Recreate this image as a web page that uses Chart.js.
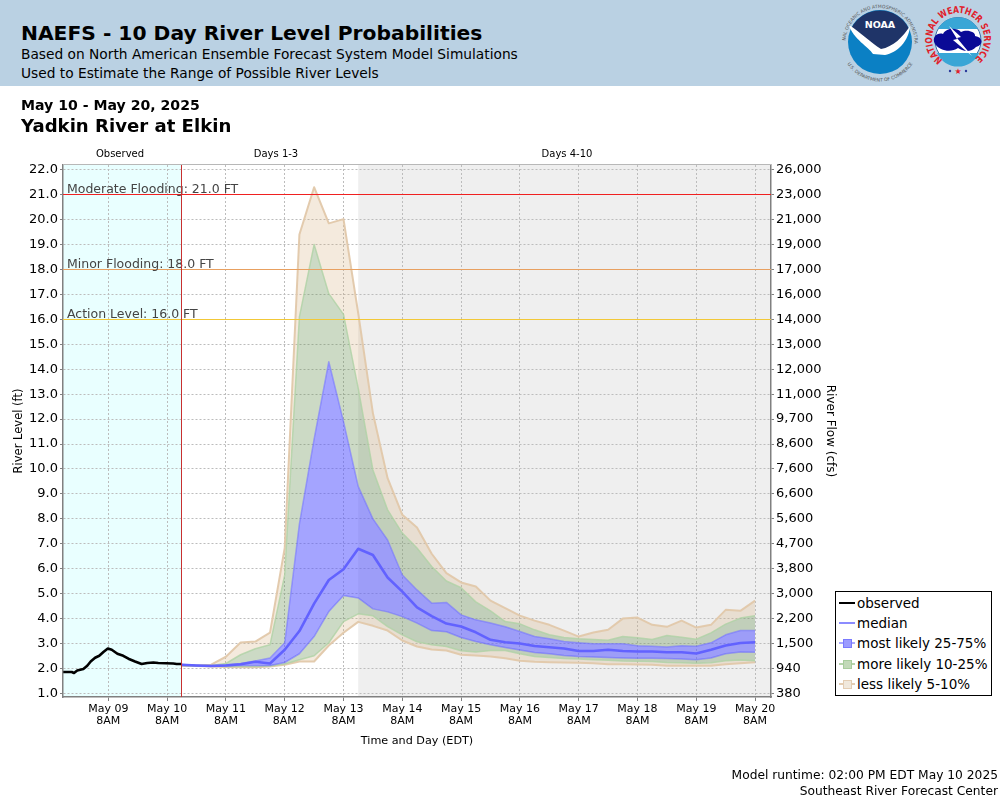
<!DOCTYPE html>
<html>
<head>
<meta charset="utf-8">
<title>NAEFS - Yadkin River at Elkin</title>
<script src="https://cdn.jsdelivr.net/npm/chart.js@4"></script>
<style>
html, body { margin: 0; padding: 0; background: #fff; overflow: hidden; }
body { width: 1000px; height: 800px; position: relative; font-family: "DejaVu Sans", sans-serif; color: #000; }
#chart { position: absolute; left: 0; top: 0; }
#banner { position: absolute; left: 0; top: 0; width: 1000px; height: 86px; background: #bad1e3; }
.txt { position: absolute; white-space: nowrap; line-height: 1; }
#legend { position: absolute; left: 835px; top: 591px; width: 155px; height: 103px; border: 1px solid #000; background: #fff; }
.row { position: absolute; left: 0; height: 20px; width: 155px; font-size: 13.5px; line-height: 20px; }
.row i { position: absolute; left: 3px; top: 9px; width: 16px; height: 2px; }
.row b { position: absolute; left: 7px; top: 6px; width: 7px; height: 7px; border: 1px solid; }
.row span { position: absolute; left: 21px; top: 0; white-space: nowrap; }
</style>
</head>
<body>
<canvas id="chart" width="1000" height="800"></canvas>

<div id="banner"></div>
<div class="txt" style="left:21px;top:23px;font-size:20.25px;font-weight:bold">NAEFS - 10 Day River Level Probabilities</div>
<div class="txt" style="left:21px;top:48px;font-size:13.76px">Based on North American Ensemble Forecast System Model Simulations</div>
<div class="txt" style="left:21px;top:67px;font-size:13.76px">Used to Estimate the Range of Possible River Levels</div>

<svg style="position:absolute;left:838px;top:0" width="162" height="86" viewBox="838 0 162 86">
  <defs>
    <path id="noaaTop" d="M 845.5 42.5 A 34.5 34.5 0 0 1 914.5 42.5"/>
    <path id="noaaBot" d="M 841 42.5 A 39 39 0 0 0 919 42.5"/>
    <path id="nwsRing" d="M 942.7 60 A 26 26 0 1 1 973.3 60"/>
  </defs>
  <circle cx="880" cy="42" r="32" fill="#0b80c4"/>
  <path d="M 851 29 A 32 32 0 0 1 909 29 C 901 41 893 49 879 51 C 869 43 861 35 851 29 Z" fill="#1f3468"/>
  <path d="M 849 25 C 859 31 871 43 881 49 C 893 47 903 37 910 26 C 909 41 897 53 885 55 L 873 54 C 869 47 853 39 849 25 Z" fill="#fff"/>
  <text x="880" y="28" text-anchor="middle" font-size="9.5" font-weight="bold" fill="#fff" font-family="DejaVu Sans">NOAA</text>
  <text font-size="4.6" fill="#555" font-family="DejaVu Sans"><textPath href="#noaaTop" startOffset="50%" text-anchor="middle">NATIONAL OCEANIC AND ATMOSPHERIC ADMINISTRATION</textPath></text>
  <text font-size="4.6" fill="#555" font-family="DejaVu Sans"><textPath href="#noaaBot" startOffset="50%" text-anchor="middle">U.S. DEPARTMENT OF COMMERCE</textPath></text>

  <circle cx="958" cy="40.5" r="23" fill="#fff" stroke="#3a6ea8"/>
  <path d="M 938 29 A 23 23 0 0 1 978 29 Z" fill="#39a6d6"/>
  <path d="M 937 53 A 23 23 0 0 0 979 53 Z" fill="#39a6d6"/>
  <path d="M 935 44 C 931 37 938 32 943 34 C 947 27 957 28 961 32 C 967 29 976 32 975 36 C 983 37 984 45 976 47 C 971 53 962 51 958 48 C 951 53 940 51 935 44 Z" fill="#0a0a96"/>
  <path d="M 949 26 L 961 37 L 957 38 L 972 56 L 953 40 L 957 39 Z" fill="#fff"/>
  <text font-size="9.5" font-weight="bold" fill="#e0202a" font-family="DejaVu Sans"><textPath href="#nwsRing" textLength="128" lengthAdjust="spacingAndGlyphs">NATIONAL WEATHER SERVICE</textPath></text>
  <text x="958" y="74" text-anchor="middle" font-size="8" fill="#e0202a" font-family="DejaVu Sans">★</text>
  <circle cx="950" cy="71" r="1.2" fill="#2a3a9a"/>
  <circle cx="966" cy="71" r="1.2" fill="#2a3a9a"/>
</svg>

<div class="txt" style="left:21px;top:98px;font-size:14.1px;font-weight:bold">May 10 - May 20, 2025</div>
<div class="txt" style="left:21px;top:117px;font-size:18.1px;font-weight:bold">Yadkin River at Elkin</div>

<div class="txt" style="left:120px;top:149px;font-size:10px;transform:translateX(-50%)">Observed</div>
<div class="txt" style="left:276px;top:149px;font-size:10px;transform:translateX(-50%)">Days 1-3</div>
<div class="txt" style="left:567px;top:149px;font-size:10px;transform:translateX(-50%)">Days 4-10</div>

<div id="legend">
  <div class="row" style="top:1px"><i style="background:#000"></i><span>observed</span></div>
  <div class="row" style="top:21px"><i style="background:#8c8cff"></i><span>median</span></div>
  <div class="row" style="top:41px"><i style="background:#a8a8ff"></i><b style="background:#9c9cff;border-color:#7a7aff"></b><span>most likely 25-75%</span></div>
  <div class="row" style="top:62px"><i style="background:#b5d3ab"></i><b style="background:#c2d9b8;border-color:#a8cc9c"></b><span>more likely 10-25%</span></div>
  <div class="row" style="top:82px"><i style="background:#e3cdb3"></i><b style="background:#f0e8dc;border-color:#e3cdb3"></b><span>less likely 5-10%</span></div>
</div>

<div class="txt" style="right:2px;top:769px;font-size:12.25px">Model runtime: 02:00 PM EDT May 10 2025</div>
<div class="txt" style="right:2px;top:785px;font-size:12.25px">Southeast River Forecast Center</div>

<script>
// x values are hours after May 09 8AM
const obsHours = [-18.4, -14.9, -14, -12.7, -10.2, -8.6, -7.2, -5.4, -3.7, -2, -0.2, 1.4, 3.7, 6.1, 8.2, 10.9, 13.6, 15.9, 18.4, 20.4, 26.5, 27.9, 30];
const obsLevels = [1.86, 1.86, 1.82, 1.92, 1.98, 2.11, 2.28, 2.43, 2.51, 2.66, 2.8, 2.75, 2.59, 2.51, 2.39, 2.28, 2.18, 2.22, 2.24, 2.22, 2.2, 2.18, 2.18];

// forecast runs every 6 hours from May 10 2PM to May 20 8AM
const fcstHours = [30, 36, 42, 48, 54, 60, 66, 72, 78, 84, 90, 96, 102, 108, 114, 120, 126, 132, 138, 144,
    150, 156, 162, 168, 174, 180, 186, 192, 198, 204, 210, 216, 222, 228, 234, 240, 246, 252, 258, 264];

const median = [2.15, 2.12, 2.1, 2.12, 2.17, 2.27, 2.2, 2.75, 3.5, 4.6, 5.55, 5.98, 6.8, 6.55, 5.65, 5.08, 4.45, 4.1, 3.8, 3.68,
    3.45, 3.15, 3.05, 3.0, 2.9, 2.85, 2.8, 2.7, 2.7, 2.75, 2.7, 2.68, 2.68, 2.65, 2.65, 2.6, 2.75, 2.92, 3.02, 3.05];
const p75 = [2.15, 2.12, 2.12, 2.15, 2.2, 2.3, 2.42, 3.03, 7.8, 11.2, 14.3, 11.9, 9.3, 8.0, 7.15, 5.75, 5.15, 4.62, 4.65, 4.15,
    3.95, 3.82, 3.67, 3.48, 3.28, 3.19, 3.08, 3.03, 2.99, 2.99, 2.99, 2.91, 2.89, 2.86, 2.91, 2.89, 3.03, 3.35, 3.52, 3.52];
const p25 = [2.12, 2.11, 2.1, 2.1, 2.12, 2.12, 2.12, 2.24, 2.59, 3.28, 4.28, 4.93, 4.83, 4.39, 4.27, 4.08, 3.82, 3.52, 3.47, 3.24,
    3.08, 2.95, 2.84, 2.74, 2.64, 2.59, 2.52, 2.48, 2.46, 2.44, 2.42, 2.41, 2.41, 2.4, 2.38, 2.35, 2.42, 2.59, 2.66, 2.65];
const p90 = [2.15, 2.12, 2.12, 2.2, 2.55, 2.79, 2.95, 5.75, 16.1, 19.0, 17.03, 16.2, 13.24, 9.96, 8.36, 7.43, 6.83, 6.09, 5.51, 5.24,
    4.67, 4.31, 3.88, 3.79, 3.55, 3.35, 3.24, 3.19, 3.16, 3.13, 3.28, 3.23, 3.16, 3.32, 3.25, 3.17, 3.43, 3.78, 4.02, 4.11];
const p10 = [2.12, 2.1, 2.1, 2.08, 2.08, 2.08, 2.1, 2.18, 2.35, 2.51, 3.03, 3.88, 4.19, 4.11, 3.68, 3.35, 3.07, 2.95, 2.88, 2.71,
    2.66, 2.72, 2.72, 2.59, 2.48, 2.44, 2.4, 2.38, 2.35, 2.33, 2.3, 2.29, 2.28, 2.24, 2.23, 2.21, 2.23, 2.31, 2.34, 2.31];
const p95 = [2.15, 2.12, 2.15, 2.47, 3.04, 3.08, 3.44, 6.83, 19.4, 21.3, 19.85, 20.02, 16.25, 12.24, 9.63, 8.16, 7.65, 6.6, 5.82, 5.45,
    5.29, 4.72, 4.42, 4.12, 3.92, 3.75, 3.52, 3.28, 3.44, 3.55, 4.0, 4.04, 3.75, 3.67, 3.92, 3.64, 3.75, 4.35, 4.31, 4.72];
const p05 = [2.1, 2.1, 2.08, 2.06, 2.05, 2.05, 2.08, 2.15, 2.28, 2.28, 2.92, 3.43, 3.87, 3.71, 3.52, 3.12, 2.88, 2.76, 2.72, 2.55,
    2.52, 2.48, 2.41, 2.31, 2.27, 2.25, 2.24, 2.23, 2.21, 2.17, 2.17, 2.16, 2.15, 2.11, 2.11, 2.11, 2.11, 2.17, 2.21, 2.25];

const dayTicks = [0, 24, 48, 72, 96, 120, 144, 168, 192, 216, 240, 264];
const dayLabels = ['May 09', 'May 10', 'May 11', 'May 12', 'May 13', 'May 14', 'May 15', 'May 16', 'May 17', 'May 18', 'May 19', 'May 20'];

const levelTicks = [1, 2, 3, 4, 5, 6, 7, 8, 9, 10, 11, 12, 13, 14, 15, 16, 17, 18, 19, 20, 21, 22];
const flowLabels = ['380', '940', '1,500', '2,200', '3,000', '3,800', '4,700', '5,600', '6,600', '7,600', '8,600',
    '9,700', '11,000', '12,000', '13,000', '14,000', '16,000', '17,000', '19,000', '21,000', '23,000', '26,000'];

const floodLevels = [21, 18, 16];
const floodLabels = ['Moderate Flooding: 21.0 FT', 'Minor Flooding: 18.0 FT', 'Action Level: 16.0 FT'];
const floodColors = ['#f02020', '#e8a060', '#f2c838'];

const xMin = -18.5, xMax = 270.5;
const yMin = 0.856, yMax = 22.19;
const nowHour = 30, day4Hour = 102;

function pairs(xs, ys) {
    return xs.map((x, i) => ({ x: x, y: ys[i] }));
}

const BLUE_FILL = 'rgba(90,90,255,0.55)', BLUE_EDGE = 'rgba(110,110,255,0.55)';
const GREEN_FILL = 'rgba(110,150,90,0.35)', GREEN_EDGE = 'rgba(175,210,165,0.8)';
const TAN_FILL = 'rgba(210,170,120,0.25)', TAN_EDGE = 'rgba(225,200,170,0.95)';

function band(label, ys, edge, width, fillTo, fillColor) {
    return {
        label: label,
        data: pairs(fcstHours, ys),
        borderColor: edge,
        borderWidth: width,
        borderJoinStyle: 'round',
        pointRadius: 0,
        tension: 0,
        fill: fillTo === null ? false : { target: fillTo },
        backgroundColor: fillColor
    };
}

// shaded periods go behind the grid, flood lines on top of the bands
const periodsPlugin = {
    id: 'periods',
    beforeDraw(chart) {
        const { ctx, chartArea: a, scales: { x } } = chart;
        ctx.save();
        ctx.fillStyle = '#e9ffff';
        ctx.fillRect(a.left, a.top, x.getPixelForValue(nowHour) - a.left, a.bottom - a.top);
        ctx.fillStyle = '#efefef';
        ctx.fillRect(x.getPixelForValue(day4Hour), a.top, a.right - x.getPixelForValue(day4Hour), a.bottom - a.top);
        ctx.restore();
    },
    afterDatasetsDraw(chart) {
        const { ctx, chartArea: a, scales: { x, y } } = chart;
        ctx.save();
        ctx.lineWidth = 1;
        floodLevels.forEach((lvl, i) => {
            const py = Math.floor(y.getPixelForValue(lvl)) + 0.5;
            ctx.strokeStyle = floodColors[i];
            ctx.beginPath();
            ctx.moveTo(a.left, py);
            ctx.lineTo(a.right, py);
            ctx.stroke();
            ctx.fillStyle = '#444';
            ctx.font = '12.5px "DejaVu Sans"';
            ctx.textBaseline = 'alphabetic';
            ctx.fillText(floodLabels[i], a.left + 4, py - 2);
        });
        const nx = Math.floor(x.getPixelForValue(nowHour)) + 0.5;
        ctx.strokeStyle = '#c83030';
        ctx.beginPath();
        ctx.moveTo(nx, a.top);
        ctx.lineTo(nx, a.bottom);
        ctx.stroke();
        // top frame line
        ctx.strokeStyle = '#b8b8b8';
        ctx.beginPath();
        ctx.moveTo(a.left, a.top - 0.5);
        ctx.lineTo(a.right, a.top - 0.5);
        ctx.stroke();
        ctx.restore();
    }
};

new Chart(document.getElementById('chart').getContext('2d'), {
    type: 'line',
    plugins: [periodsPlugin],
    data: {
        datasets: [
            { label: 'observed', data: pairs(obsHours, obsLevels), borderColor: '#000', borderWidth: 2.6, borderJoinStyle: 'round', pointRadius: 0, tension: 0, fill: false },
            { label: 'median', data: pairs(fcstHours, median), borderColor: '#6262ff', borderWidth: 2.6, borderJoinStyle: 'round', pointRadius: 0, tension: 0, fill: false },
            band('most likely 25-75%', p75, BLUE_EDGE, 1.5, 3, BLUE_FILL),
            band('p25', p25, BLUE_EDGE, 1.5, null, BLUE_FILL),
            band('more likely 10-25%', p90, GREEN_EDGE, 1.5, 2, GREEN_FILL),
            band('p10', p10, GREEN_EDGE, 1.5, 3, GREEN_FILL),
            band('less likely 5-10%', p95, TAN_EDGE, 2, 4, TAN_FILL),
            band('p05', p05, TAN_EDGE, 2, 5, TAN_FILL)
        ]
    },
    options: {
        responsive: false,
        animation: false,
        devicePixelRatio: 1,
        layout: { padding: { top: 165, left: 0, right: 163, bottom: 50 } },
        plugins: { legend: { display: false }, tooltip: { enabled: false } },
        scales: {
            x: {
                type: 'linear',
                bounds: 'data',
                min: xMin,
                max: xMax,
                afterBuildTicks: s => { s.ticks = dayTicks.map(v => ({ value: v })); },
                afterFit: s => { s.height = 53; },
                ticks: {
                    autoSkip: false,
                    maxRotation: 0,
                    padding: 2,
                    color: '#000',
                    font: { family: '"DejaVu Sans"', size: 11, lineHeight: 1.1 },
                    callback: v => [dayLabels[dayTicks.indexOf(v)], '8AM']
                },
                grid: { color: '#bcbcbc', tickLength: 4, tickColor: '#808080', tickBorderDash: [], tickBorderDashOffset: 0 },
                border: { color: '#808080', width: 1.5, dash: [2, 2] },
                title: { display: true, text: 'Time and Day (EDT)', color: '#000', font: { family: '"DejaVu Sans"', size: 11.2 }, padding: { top: 0, bottom: 2 } }
            },
            y: {
                position: 'left',
                bounds: 'data',
                min: yMin,
                max: yMax,
                afterBuildTicks: s => { s.ticks = levelTicks.map(v => ({ value: v })); },
                afterFit: s => { s.width = 63; },
                ticks: { padding: 2, color: '#000', font: { family: '"DejaVu Sans"', size: 13 }, callback: v => v.toFixed(1) },
                grid: { color: '#bcbcbc', tickLength: 3, tickColor: '#808080', tickBorderDash: [] },
                border: { color: '#808080', width: 1.5, dash: [2, 2] },
                title: { display: true, text: 'River Level (ft)', color: '#000', font: { family: '"DejaVu Sans"', size: 11.5 }, padding: { top: 12, bottom: 0 } }
            },
            yFlow: {
                position: 'right',
                bounds: 'data',
                min: yMin,
                max: yMax,
                afterBuildTicks: s => { s.ticks = levelTicks.map(v => ({ value: v })); },
                afterFit: s => { s.width = 66; },
                ticks: { padding: 2, color: '#000', font: { family: '"DejaVu Sans"', size: 13 }, callback: v => flowLabels[levelTicks.indexOf(v)] },
                grid: { drawOnChartArea: false, tickLength: 3, tickColor: '#808080' },
                border: { color: '#808080', width: 1.5 },
                title: { display: true, text: 'River Flow (cfs)', color: '#000', font: { family: '"DejaVu Sans"', size: 12 }, padding: { top: 0, bottom: 1 } }
            }
        }
    }
});
</script>
</body>
</html>
